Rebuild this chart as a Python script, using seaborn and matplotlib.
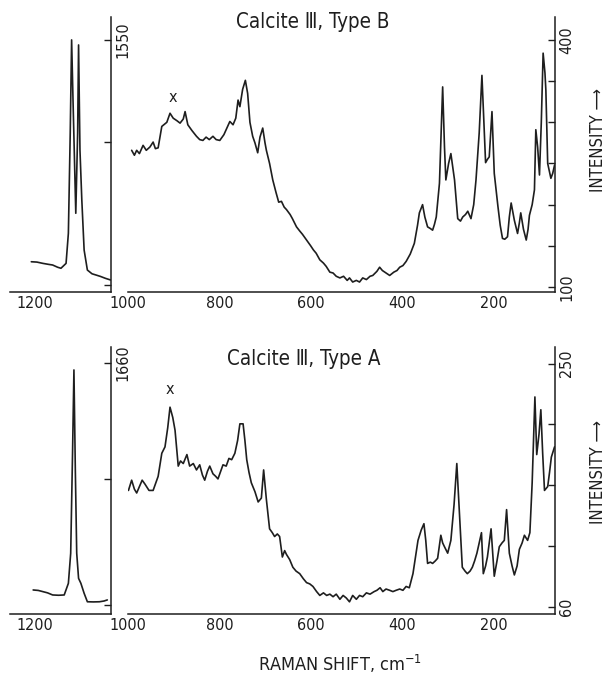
import numpy as np
import pandas as pd
import matplotlib
matplotlib.use('Agg')
import matplotlib.pyplot as plt
import seaborn as sns

# Calcite III, Type B  (main range)
shift_b = [992, 986, 981, 975, 967, 960, 952, 945, 940, 934, 926, 915, 908, 901, 893,
           886, 879, 875, 869, 860, 850, 843, 836, 829, 822, 814, 807, 799, 790,
           777, 770, 764, 759, 755, 749, 743, 738, 733, 727, 722, 716, 711, 705, 700,
           697, 690, 683, 676, 670, 664, 658, 653, 645, 640, 631, 624, 618, 609,
           600, 594, 588, 580, 572, 566, 558, 551, 544, 536, 528, 520, 515, 508, 500,
           493, 486, 478, 470, 464, 455, 449, 443, 435, 427, 418, 411, 405, 398, 391,
           382, 373, 366, 362, 355, 350, 344, 338, 333, 329, 325, 318, 311, 307, 304,
           298, 293, 285, 278, 272, 267, 261, 256, 249, 243, 238, 231, 225, 220, 217,
           213, 209, 203, 198, 190, 185, 180, 175, 169, 165, 161, 157, 154, 150, 147,
           143, 140, 134, 128, 124, 121, 115, 110, 107, 103, 99, 95, 91, 87, 85,
           81, 77, 74, 70, 66]
int_b = [266, 260, 266, 262, 272, 266, 270, 276, 268, 269, 295, 300, 311, 305, 302,
         299, 304, 313, 297, 290, 283, 279, 278, 282, 279, 283, 279, 278, 285,
         301, 297, 305, 327, 319, 340, 351, 335, 300, 283, 275, 263, 282, 293, 275,
         266, 250, 230, 215, 203, 204, 197, 194, 188, 183, 173, 168, 164, 157,
         150, 145, 141, 133, 129, 125, 118, 117, 113, 111, 113, 108, 111, 106, 108,
         106, 111, 109, 113, 114, 119, 124, 120, 117, 114, 118, 120, 124, 126, 131,
         140, 153, 175, 190, 200, 185, 173, 171, 169, 176, 185, 226, 343, 270, 230,
         250, 262, 230, 183, 180, 185, 188, 192, 183, 200, 230, 287, 357, 290, 251,
         255, 258, 313, 238, 198, 175, 159, 158, 161, 185, 202, 190, 181, 172, 165,
         178, 190, 170, 157, 170, 187, 200, 218, 291, 270, 236, 300, 384, 360, 339,
         250, 240, 232, 238, 248]

# Calcite III, Type B  (1200-1050 region)
shift_b_hi = [1207, 1195, 1182, 1170, 1161, 1150, 1143, 1132, 1127, 1123, 1120, 1117,
              1111, 1107, 1105, 1102, 1098, 1093, 1086, 1076, 1068, 1058, 1047, 1036]
int_b_hi = [186, 184, 176, 170, 166, 152, 146, 176, 361, 976, 1550, 1181,
            484, 976, 1519, 873, 566, 258, 135, 112, 105, 96, 84, 74]

# Calcite III, Type A  (main range)
shift_a = [999, 992, 986, 981, 975, 969, 963, 954, 945, 940, 934, 926, 919, 913, 908,
           902, 897, 890, 885, 879, 871, 865, 857, 850, 843, 837, 832, 826, 821, 814,
           808, 803, 797, 792, 785, 779, 773, 766, 760, 755, 748, 744, 740, 735, 730,
           722, 715, 708, 703, 697, 690, 684, 679, 673, 668, 662, 657, 653, 646, 639,
           632, 624, 616, 609, 602, 595, 587, 580, 572, 565, 558, 551, 544, 536, 529,
           522, 515, 508, 500, 493, 486, 478, 470, 461, 455, 448, 442, 435, 427, 420,
           413, 405, 398, 391, 384, 376, 370, 365, 358, 352, 348, 344, 338, 333, 327,
           322, 315, 311, 307, 300, 293, 286, 280, 275, 268, 262, 257, 251, 246, 241,
           236, 231, 226, 222, 217, 213, 209, 205, 198, 192, 187, 181, 176, 171, 165,
           159, 154, 148, 143, 137, 132, 125, 120, 115, 109, 105, 100, 96, 92, 88,
           81, 77, 73, 66]
int_a = [151, 159, 152, 149, 154, 159, 156, 151, 151, 156, 162, 180, 185, 200, 216,
         208, 198, 170, 174, 172, 179, 170, 172, 167, 171, 163, 159, 166, 170, 164,
         162, 160, 166, 171, 170, 176, 175, 180, 190, 203, 203, 190, 175, 165, 157,
         150, 142, 145, 167, 144, 121, 118, 115, 117, 115, 99, 104, 101, 97, 91,
         88, 86, 82, 79, 78, 76, 72, 69, 71, 69, 70, 68, 70, 66, 69,
         67, 64, 69, 66, 69, 68, 71, 70, 72, 73, 75, 72, 74, 73, 72,
         73, 74, 73, 76, 75, 86, 100, 112, 120, 125, 112, 94, 95, 94, 96,
         98, 116, 110, 107, 102, 112, 140, 172, 138, 91, 88, 86, 88, 91, 96,
         102, 110, 118, 86, 92, 99, 110, 121, 84, 96, 107, 110, 112, 136, 102,
         92, 85, 92, 105, 110, 116, 112, 118, 157, 224, 179, 195, 214, 180, 151,
         154, 165, 177, 185]

# Calcite III, Type A  (1200-1050 region)
shift_a_hi = [1203, 1192, 1182, 1172, 1161, 1148, 1136, 1127, 1122, 1118, 1115, 1112,
              1109, 1105, 1100, 1093, 1086, 1073, 1060, 1050, 1043]
int_a_hi = [159, 156, 148, 140, 126, 124, 126, 203, 402, 1064, 1615, 953,
            402, 236, 203, 137, 81, 80, 81, 86, 93]

sns.set_style('white')
plt.rcParams['font.family'] = ['DejaVu Sans']
plt.rcParams['font.stretch'] = 'condensed'

ink = '#1e1e1e'
fig = plt.figure(figsize=(6.07, 6.82), dpi=100)

W, H = 607.0, 682.0
def box(x0, x1, y0, y1):
    return [x0 / W, 1 - y1 / H, (x1 - x0) / W, (y1 - y0) / H]

panels = [
    dict(hi=(shift_b_hi, int_b_hi), lo=(shift_b, int_b), y0=17, y1=292,
         ins_ylim=(0, 1691), ins_ticks=[1550, 923, 43], ins_lab='1550',
         ylim=(93.9, 427.9), yt=[400, 350, 300, 250, 200, 150, 100], ylab=('400', '100'),
         title='Calcite Ⅲ, Type B', ty=22, tx=313, mark=(901, 330), inty=140),
    dict(hi=(shift_a_hi, int_a_hi), lo=(shift_a, int_a), y0=347, y1=614,
         ins_ylim=(0, 1767), ins_ticks=[1660, 892, 60], ins_lab='1660',
         ylim=(54.5, 263), yt=[250, 202.5, 155, 107.5, 60], ylab=('250', '60'),
         title='Calcite Ⅲ, Type A', ty=359, tx=304, mark=(908, 230), inty=472),
]

for p in panels:
    ins = fig.add_axes(box(10, 111, p['y0'], p['y1']))
    ax = fig.add_axes(box(128, 555, p['y0'], p['y1']))

    d_hi = pd.DataFrame({'shift': p['hi'][0], 'intensity': p['hi'][1]})
    d_lo = pd.DataFrame({'shift': p['lo'][0], 'intensity': p['lo'][1]})
    sns.lineplot(data=d_hi, x='shift', y='intensity', ax=ins, color=ink, lw=1.2, sort=False)
    sns.lineplot(data=d_lo, x='shift', y='intensity', ax=ax, color=ink, lw=1.2, sort=False)

    for a in (ins, ax):
        a.set_facecolor('none')
        for s in ('top', 'left'):
            a.spines[s].set_visible(False)
        for s in ('bottom', 'right'):
            a.spines[s].set_color(ink)
            a.spines[s].set_linewidth(1.1)
        a.yaxis.tick_right()
        a.set_xlabel('')
        a.set_ylabel('')
        a.tick_params(axis='x', which='both', direction='in', length=6, width=1,
                      color=ink, labelsize=11.5, pad=3, labelcolor=ink)
        a.tick_params(axis='y', direction='in', length=5, width=1, color=ink,
                      labelsize=11.5, pad=3, labelrotation=90, labelcolor=ink)

    ins.set_xlim(1253, 1035)
    ins.set_xticks([1200, 1100])
    ins.set_xticklabels(['1200', ''])
    ins.set_ylim(*p['ins_ylim'])
    ins.set_yticks(p['ins_ticks'])
    ins.set_yticklabels([p['ins_lab'], '', ''], va='center')

    ax.set_xlim(1000, 65)
    ax.set_xticks([1000, 800, 600, 400, 200])
    ax.set_xticks([900, 700, 500, 300, 100], minor=True)
    ax.set_ylim(*p['ylim'])
    ax.set_yticks(p['yt'])
    ax.set_yticklabels([p['ylab'][0]] + [''] * (len(p['yt']) - 2) + [p['ylab'][1]], va='center')

    ax.text(p['mark'][0], p['mark'][1], 'x', ha='center', va='center', fontsize=11.5, color=ink)
    fig.text(p['tx'] / W, 1 - p['ty'] / H, p['title'], ha='center', va='center',
             fontsize=14.8, color=ink)
    fig.text(598 / W, 1 - p['inty'] / H, 'INTENSITY ⟶', rotation=90, ha='center',
             va='center', fontsize=12, color=ink)

fig.text(340 / W, 1 - 664 / H, 'RAMAN SHIFT, cm$^{-1}$', ha='center', va='center',
         fontsize=13, color=ink)

plt.savefig('out.png', dpi=100)
